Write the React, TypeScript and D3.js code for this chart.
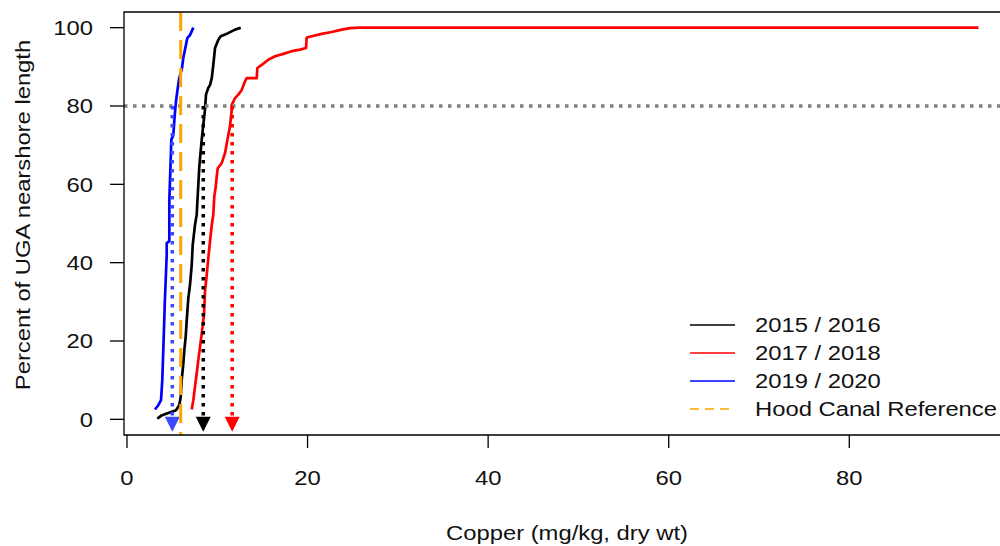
import React from "react";
import * as d3 from "d3";

// ---- Data ----
const series2015: [number, number][] = [
  [3.36, 0.2], [3.84, 1.0], [4.4, 1.5], [4.95, 1.9], [5.43, 2.3], [5.79, 3.6], [5.95, 5.7],
  [6.06, 10], [6.24, 14.2], [6.35, 17.6], [6.5, 21], [6.61, 25], [6.79, 30.9], [6.98, 34.3],
  [7.17, 39.4], [7.28, 44.5], [7.53, 49.6], [7.72, 52.2], [7.83, 56.9], [8.01, 64.5],
  [8.28, 71.4], [8.45, 75.2], [8.64, 79], [8.75, 82.9], [9.0, 84.6], [9.2, 85.4], [9.39, 87.1],
  [9.56, 90.5], [9.75, 94.8], [10.12, 96.9], [10.38, 97.8], [11.2, 98.6], [11.97, 99.5], [12.6, 100],
];
const series2017: [number, number][] = [
  [7.17, 2.5], [7.35, 4.9], [7.53, 8.3], [7.72, 11.7], [7.9, 15.1], [8.09, 18.5], [8.28, 21.9],
  [8.45, 25.3], [8.53, 26.6], [8.64, 32.6], [8.83, 36.8], [9.01, 41.2], [9.12, 43.7], [9.27, 47.1],
  [9.39, 49.6], [9.56, 52.2], [9.67, 56.9], [9.83, 59.4], [9.94, 62], [10.05, 64.1], [10.49, 65.4],
  [10.86, 68], [11.22, 72.6], [11.41, 74.8], [11.6, 79], [11.6, 80.3], [11.97, 82], [12.33, 82.9],
  [12.71, 84.1], [13.07, 86.3], [13.26, 87.1], [14.37, 87.1], [14.44, 89.7], [14.93, 90.5],
  [15.66, 91.8], [16.4, 92.7], [17.32, 93.3], [18.25, 94.0], [19.17, 94.4], [19.83, 94.8],
  [19.91, 97.5], [20.47, 97.8], [21.57, 98.4], [22.68, 98.9], [23.79, 99.5], [24.71, 99.9],
  [25.8, 100], [94.3, 100],
];
const series2019: [number, number][] = [
  [3.1, 2.5], [3.47, 3.6], [3.77, 4.9], [3.91, 10], [4.02, 17.6], [4.13, 25.3], [4.18, 29.2],
  [4.4, 42], [4.4, 45], [4.69, 45.5], [4.69, 56], [4.84, 66], [4.91, 71.4], [5.13, 72.5],
  [5.29, 77.7], [5.43, 81.2], [5.57, 83.7], [5.79, 87.1], [6.09, 89.6], [6.23, 92.2],
  [6.45, 94.7], [6.68, 97.3], [6.98, 98.1], [7.35, 100],
];
const seriesNames = ["2015 / 2016", "2017 / 2018", "2019 / 2020", "Hood Canal Reference"];
const hoodCanalReference = 5.95;
const percentile80 = 80;
const arrowValues = [5.02, 8.45, 11.65]; // 80th percentile copper for 2019/20, 2015/16, 2017/18
const xTicks = [0, 20, 40, 60, 80];
const yTicks = [0, 20, 40, 60, 80, 100];
const xTitle = "Copper (mg/kg, dry wt)";
const yTitle = "Percent of UGA nearshore length";

const W = 1000;
const H = 546;
const FONT = "'Liberation Sans', Arial, sans-serif";
const FS = 20;
const SX = 1.19;

export default function App() {
  const left = 124, right = 1010, top = 12, bottom = 435;
  const x = d3.scaleLinear().domain([-0.33, 97.8]).range([left, right]);
  const y = d3.scaleLinear().domain([-4, 104]).range([bottom, top]);
  const line = d3.line<[number, number]>().x((d) => x(d[0])).y((d) => y(d[1]));

  const curves = [
    { data: series2015, color: "#000000" },
    { data: series2017, color: "#ff0000" },
    { data: series2019, color: "#0000ff" },
  ];
  const arrows = [
    { v: arrowValues[0], color: "#3a4aff" },
    { v: arrowValues[1], color: "#000000" },
    { v: arrowValues[2], color: "#ff0000" },
  ];
  const legendItems = [
    { name: seriesNames[0], color: "#000000", dash: undefined },
    { name: seriesNames[1], color: "#ff0000", dash: undefined },
    { name: seriesNames[2], color: "#0000ff", dash: undefined },
    { name: seriesNames[3], color: "#ffa500", dash: "9 6" },
  ];

  const txt = (tx: number, ty: number, s: string, anchor: string, rot = 0, key?: any) => (
    <text
      key={key}
      transform={`translate(${tx},${ty}) rotate(${rot}) scale(${SX},1)`}
      textAnchor={anchor}
      dy="0.36em"
      fontFamily={FONT}
      fontSize={FS}
      fill="#111"
    >
      {s}
    </text>
  );

  return (
    <svg width={W} height={H} style={{ position: "absolute", left: 0, top: 0, background: "#fff" }}>
      <defs>
        <clipPath id="plot">
          <rect x={left} y={top} width={W - left} height={bottom - top} />
        </clipPath>
      </defs>
      <rect x={0} y={0} width={W} height={H} fill="#fff" />
      <g clipPath="url(#plot)">
        {curves.map((c, i) => (
          <path key={i} d={line(c.data) || ""} fill="none" stroke={c.color} strokeWidth={2.7} strokeLinejoin="round" />
        ))}
        <line x1={left} x2={W} y1={y(percentile80)} y2={y(percentile80)} stroke="#808080" strokeWidth={3.5} strokeDasharray="3.5 5.5" />
        {arrows.map((a, i) => (
          <g key={i}>
            <line x1={x(a.v)} x2={x(a.v)} y1={y(percentile80)} y2={y(0) - 2} stroke={a.color} strokeWidth={3.5} strokeDasharray="3.5 5.5" />
            <path
              d={`M${x(a.v) - 7.5},${y(0) - 2.6} L${x(a.v) + 7.5},${y(0) - 2.6} L${x(a.v)},${y(0) + 12.4} Z`}
              fill={a.color}
            />
          </g>
        ))}
        <line x1={x(hoodCanalReference)} x2={x(hoodCanalReference)} y1={top} y2={bottom} stroke="#ffa500" strokeWidth={3} strokeDasharray="19 9" />
      </g>
      {/* box */}
      <path d={`M${W + 5},${top} L${left},${top} L${left},${bottom} L${W + 5},${bottom}`} fill="none" stroke="#000" strokeWidth={1.3} />
      {/* x axis */}
      {xTicks.map((t) => (
        <g key={t}>
          <line x1={x(t)} x2={x(t)} y1={bottom} y2={bottom + 13} stroke="#000" strokeWidth={1.3} />
          {txt(x(t), 478, String(t), "middle")}
        </g>
      ))}
      {/* y axis */}
      {yTicks.map((t) => (
        <g key={t}>
          <line x1={left - 14} x2={left} y1={y(t)} y2={y(t)} stroke="#000" strokeWidth={1.3} />
          {txt(93, y(t), String(t), "end")}
        </g>
      ))}
      {txt((left + right) / 2, 533, xTitle, "middle")}
      {txt(23, 215, yTitle, "middle", -90)}
      {/* legend */}
      {legendItems.map((it, i) => {
        const ly = 325 + i * 28;
        return (
          <g key={i}>
            <line x1={690} x2={735} y1={ly} y2={ly} stroke={it.color} strokeWidth={1.6} strokeDasharray={it.dash} />
            {txt(755, ly, it.name, "start")}
          </g>
        );
      })}
    </svg>
  );
}
